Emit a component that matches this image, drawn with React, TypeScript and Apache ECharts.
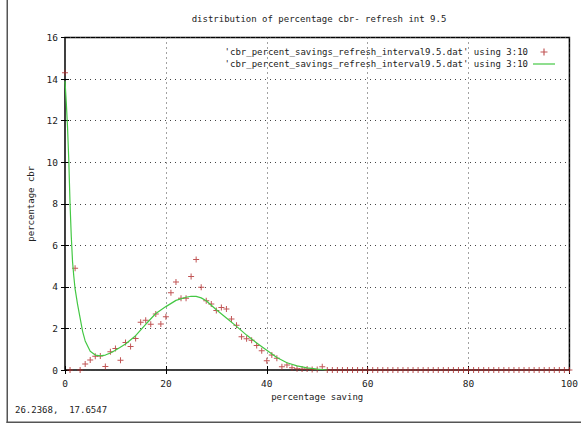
import React, { useEffect, useRef } from "react";
import * as echarts from "echarts";

const FONT = '"DejaVu Sans Mono", monospace';
const TITLE = "distribution of percentage cbr- refresh int 9.5";
const SERIES_NAME = "'cbr_percent_savings_refresh_interval9.5.dat' using 3:10";
const X_NAME = "percentage saving";
const Y_NAME = "percentage cbr";
const STATUS = "26.2368,  17.6547";

// measured points: y value at x = index (0..100)
const pointY = [
  14.3, 0, 4.9, 0, 0.29, 0.48, 0.66, 0.67, 0.17, 0.88,
  1.03, 0.47, 1.32, 1.13, 1.52, 2.3, 2.39, 2.2, 2.69, 2.21,
  2.56, 3.72, 4.23, 3.45, 3.45, 4.5, 5.32, 3.98, 3.33, 3.17,
  2.86, 3.01, 2.93, 2.46, 2.15, 1.6, 1.5, 1.43, 1.18, 0.93,
  0.45, 0.72, 0.56, 0.16, 0.24, 0.11, 0.06, 0.05, 0.05, 0.03,
  0.02, 0.16, 0, 0, 0, 0, 0, 0, 0, 0,
  0, 0, 0, 0, 0, 0, 0, 0, 0, 0,
  0, 0, 0, 0, 0, 0, 0, 0, 0, 0,
  0, 0, 0, 0, 0, 0, 0, 0, 0, 0,
  0, 0, 0, 0, 0, 0, 0, 0, 0, 0,
  0,
];

// fitted curve
const fitX = [
  0, 0.25, 0.5, 0.75, 1, 1.25, 1.5, 1.75, 2, 2.5, 3, 3.5, 4, 5, 6, 7, 8, 9, 10,
  12, 14, 16, 18, 20, 22, 24, 25, 26, 27, 28, 30, 32, 34, 36, 38, 40, 42, 44,
  46, 48, 50, 52,
];
const fitY = [
  13.9, 12.9, 11.7, 10.1, 8.0, 6.4, 5.2, 4.5, 3.9, 3.15, 2.5, 1.85, 1.4, 0.9,
  0.72, 0.68, 0.72, 0.82, 0.95, 1.25, 1.65, 2.2, 2.72, 3.05, 3.35, 3.5, 3.55,
  3.54, 3.47, 3.33, 2.9, 2.5, 2.1, 1.68, 1.3, 0.95, 0.6, 0.35, 0.2, 0.1, 0.04, 0,
];

const PLUS = "path://M2.5,0H3.5V2.5H6V3.5H3.5V6H2.5V3.5H0V2.5H2.5Z";
const LINE_ICON = "path://M0,0H22V1.2H0Z";
const RED = "#b22a2a";
const GREEN = "#44c844";
const TEXT = "#222";

export default function App() {
  const ref = useRef<HTMLDivElement>(null);
  useEffect(() => {
    const chart = echarts.init(ref.current!, null, { renderer: "svg" });
    const labelStyle = { fontFamily: FONT, fontSize: 9.5, color: TEXT };
    const split = { show: true, lineStyle: { color: "#444", type: [1, 4], width: 1 } };
    const tick = { show: true, inside: true, length: 4, lineStyle: { color: "#000" } };
    chart.setOption({
      animation: false,
      backgroundColor: "#fff",
      grid: {
        left: 65,
        right: 8,
        top: 37.5,
        bottom: 53,
        show: true,
        borderColor: "#000",
        borderWidth: 1.5,
      },
      legend: {
        orient: "vertical",
        right: 21,
        top: 41.5,
        align: "right",
        itemWidth: 22,
        itemHeight: 7,
        itemGap: 1,
        formatter: (n: string) => n.trim(),
        textStyle: { fontFamily: FONT, fontSize: 9, color: TEXT, lineHeight: 11 },
        data: [
          { name: SERIES_NAME, icon: PLUS },
          { name: SERIES_NAME + " ", icon: LINE_ICON, itemStyle: { color: GREEN } },
        ],
      },
      xAxis: [
        {
          type: "value",
          min: 0,
          max: 100,
          interval: 20,
          position: "bottom",
          name: X_NAME,
          nameLocation: "middle",
          nameGap: 22,
          nameTextStyle: { fontFamily: FONT, fontSize: 9, color: TEXT },
          axisLine: { show: false },
          axisTick: tick,
          axisLabel: { ...labelStyle, margin: 8 },
          splitLine: split,
        },
        {
          type: "value",
          min: 0,
          max: 100,
          interval: 20,
          position: "top",
          axisLine: { show: false },
          axisTick: tick,
          axisLabel: { show: false },
          splitLine: { show: false },
        },
      ],
      yAxis: [
        {
          type: "value",
          min: 0,
          max: 16,
          interval: 2,
          position: "left",
          name: Y_NAME,
          nameLocation: "middle",
          nameGap: 28,
          nameTextStyle: { fontFamily: FONT, fontSize: 9, color: TEXT },
          axisLine: { show: false },
          axisTick: tick,
          axisLabel: { ...labelStyle, margin: 7 },
          splitLine: split,
        },
        {
          type: "value",
          min: 0,
          max: 16,
          interval: 2,
          position: "right",
          axisLine: { show: false },
          axisTick: tick,
          axisLabel: { show: false },
          splitLine: { show: false },
        },
      ],
      graphic: [
        { type: "rect", shape: { x: 6.5, y: 0, width: 1.5, height: 423 }, style: { fill: "#555" } },
        { type: "rect", shape: { x: 6.5, y: 421.5, width: 575, height: 1.5 }, style: { fill: "#555" } },
        {
          type: "text",
          x: 319,
          y: 19,
          style: { text: TITLE, font: `9px ${FONT}`, fill: TEXT, align: "center", verticalAlign: "middle" },
        },
        {
          type: "text",
          x: 15,
          y: 410,
          style: { text: STATUS, font: `9px ${FONT}`, fill: TEXT, align: "left", verticalAlign: "middle" },
        },
      ],
      series: [
        {
          name: SERIES_NAME,
          type: "scatter",
          data: pointY.map((y, i) => [i, y]),
          symbol: PLUS,
          symbolSize: 6,
          itemStyle: { color: RED },
          z: 2,
        },
        {
          name: SERIES_NAME + " ",
          type: "line",
          data: fitX.map((x, i) => [x, fitY[i]]),
          symbol: "none",
          lineStyle: { color: GREEN, width: 1.2 },
          itemStyle: { color: GREEN },
          z: 3,
        },
      ],
    });
    return () => chart.dispose();
  }, []);
  return (
    <div
      ref={ref}
      style={{ position: "absolute", left: 0, top: 0, width: 581, height: 423, background: "#fff" }}
    />
  );
}
